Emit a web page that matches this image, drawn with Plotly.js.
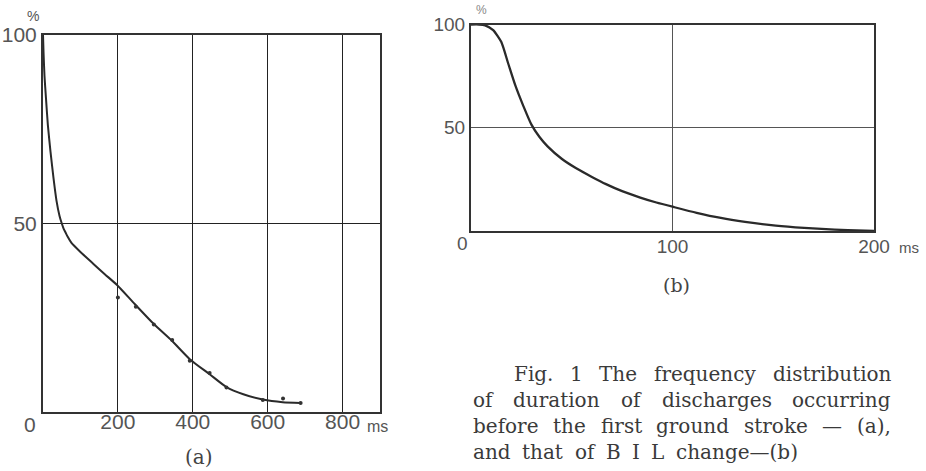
<!DOCTYPE html>
<html>
<head>
<meta charset="utf-8">
<script src="https://cdn.plot.ly/plotly-3.0.1.min.js"></script>
<style>html,body{margin:0;padding:0;background:#fff;}#chart{width:926px;height:471px;}</style>
</head>
<body>
<div id="chart"></div>
<script>
// ---- Data: chart (a) duration of discharges before first ground stroke ----
const curveA_x = [0, 1.5, 4, 8, 13, 20, 28, 36, 44, 50, 55, 60, 66, 76, 100, 134, 165, 197, 245, 296, 345, 392, 445, 490, 535, 587, 640, 688];
const curveA_y = [100, 95, 89, 83, 76, 69, 62, 56, 52, 50, 48.6, 47.6, 46.4, 44.8, 42.4, 39.3, 36.5, 33.7, 28.6, 23.3, 18.8, 14.0, 10.0, 6.6, 4.7, 3.3, 2.6, 2.4];
const dotsA_x = [200, 248, 296, 345, 392, 445, 490, 587, 641, 688];
const dotsA_y = [30.3, 27.9, 23.2, 19.1, 13.6, 10.3, 6.5, 3.2, 3.6, 2.4];

// ---- Data: chart (b) BIL change ----
const curveB_x = [0, 4, 7, 11, 15, 18.5, 22, 26, 30, 34, 38, 45, 52, 60, 67, 75, 84, 92, 101, 112, 124, 136, 149, 161, 174, 187, 200];
const curveB_y = [100, 100, 99.6, 97.3, 91.6, 81, 70.5, 60.5, 51.5, 45.5, 41, 35, 30.5, 26.2, 22.7, 19.3, 16.2, 13.8, 11.5, 8.8, 6.3, 4.4, 2.8, 1.8, 1.0, 0.4, 0];

// ---- Tick labels ----
const xTicksA = [200, 400, 600, 800];
const xTicksB = [100, 200];
const yTicks = [50, 100];

// ---- Caption ----
const captionLines = [
  "Fig. 1 The frequency distribution",
  "of duration of discharges occurring",
  "before the first ground stroke — (a),",
  "and that of B I L change—(b)"
];

const W = 926, H = 471;
const px = x => x / W;
const py = y => 1 - y / H;

const tickFont = {family: "Liberation Sans, Arial, sans-serif", size: 21, color: "#555"};
const tickFontB = {family: "Liberation Sans, Arial, sans-serif", size: 19, color: "#555"};
const serif = "DejaVu Serif";

function axisCommon(extra) {
  return Object.assign({
    showline: true, mirror: true, linecolor: "#333", linewidth: 2,
    showgrid: true, zeroline: false, ticks: "", fixedrange: true,
    tickmode: "array"
  }, extra);
}

const traces = [
  {x: curveA_x, y: curveA_y, xaxis: "x", yaxis: "y", mode: "lines",
   line: {color: "#2a2a2a", width: 2, shape: "spline", smoothing: 0.6}, hoverinfo: "skip"},
  {x: dotsA_x, y: dotsA_y, xaxis: "x", yaxis: "y", mode: "markers",
   marker: {color: "#333", size: 4}, hoverinfo: "skip"},
  {x: curveB_x, y: curveB_y, xaxis: "x2", yaxis: "y2", mode: "lines",
   line: {color: "#2a2a2a", width: 2.3, shape: "spline", smoothing: 0.6}, hoverinfo: "skip"}
];

// caption: justify words between given bounds
const canvas = document.createElement("canvas");
const ctx = canvas.getContext("2d");
const capSize = 20;
ctx.font = capSize + 'px "' + serif + '"';
const capBounds = [[513, 890, 374], [472, 890, 400], [472, 890, 426], [472, 797, 452]];
const annotations = [];
captionLines.forEach((line, i) => {
  const words = line.split(" ");
  const widths = words.map(w => ctx.measureText(w).width);
  const total = widths.reduce((a, b) => a + b, 0);
  const [x0, x1, yy] = capBounds[i];
  const gap = words.length > 1 ? (x1 - x0 - total) / (words.length - 1) : 0;
  let cx = x0;
  words.forEach((w, j) => {
    annotations.push({text: w, xref: "paper", yref: "paper", x: px(cx - 1), y: py(yy),
      xanchor: "left", yanchor: "middle", showarrow: false,
      font: {family: serif, size: capSize, color: "#3a3a3a"}});
    cx += widths[j] + gap;
  });
});

function lab(text, x, y, font) {
  annotations.push({text: text, xref: "paper", yref: "paper", x: px(x), y: py(y),
    xanchor: "center", yanchor: "middle", showarrow: false, font: font});
}
lab("0", 30, 424, tickFont);
lab("ms", 377, 426, {family: "Liberation Sans, Arial, sans-serif", size: 16, color: "#555"});
lab("%", 33, 16, {family: "Liberation Sans, Arial, sans-serif", size: 14, color: "#555"});
lab("(a)", 199, 457, {family: serif, size: 20, color: "#444"});
lab("0", 462, 243, tickFontB);
lab("ms", 909, 247, {family: "Liberation Sans, Arial, sans-serif", size: 15, color: "#555"});
lab("%", 482, 10, {family: "Liberation Sans, Arial, sans-serif", size: 12, color: "#888"});
lab("(b)", 676, 285, {family: serif, size: 19, color: "#444"});

const layout = {
  width: W, height: H,
  margin: {l: 0, r: 0, t: 0, b: 0},
  paper_bgcolor: "#fff", plot_bgcolor: "#fff",
  showlegend: false,
  xaxis: axisCommon({domain: [px(43), px(380)], range: [0, 900], anchor: "y",
    tickvals: xTicksA, ticktext: xTicksA.map(String), tickfont: tickFont,
    ticklabelstandoff: -10,
    gridcolor: "#222", gridwidth: 1}),
  yaxis: axisCommon({domain: [py(412), py(34.5)], range: [0, 100], anchor: "x",
    tickvals: yTicks, ticktext: yTicks.map(String), tickfont: tickFont,
    gridcolor: "#222", gridwidth: 1}),
  xaxis2: axisCommon({domain: [px(471), px(874)], range: [0, 200], anchor: "y2",
    tickvals: xTicksB, ticktext: xTicksB.map(String), tickfont: tickFontB,
    ticklabelstandoff: -3,
    gridcolor: "#555", gridwidth: 1}),
  yaxis2: axisCommon({domain: [py(231), py(24.5)], range: [0, 100], anchor: "x2",
    tickvals: yTicks, ticktext: yTicks.map(String), tickfont: tickFontB,
    gridcolor: "#555", gridwidth: 1}),
  annotations: annotations
};

Plotly.newPlot("chart", traces, layout, {staticPlot: true, displayModeBar: false});
</script>
</body>
</html>
